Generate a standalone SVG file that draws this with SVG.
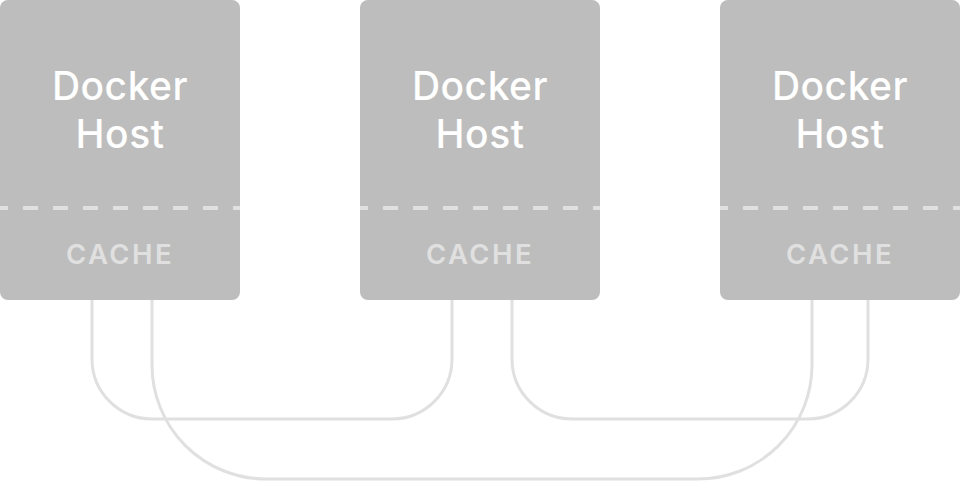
<svg xmlns="http://www.w3.org/2000/svg" width="960" height="482" viewBox="0 0 960 482">
<style>
.box{fill:#bdbdbd}
.title{font-family:Inter,"Open Sans","Liberation Sans",sans-serif;font-size:39px;font-weight:500;fill:#ffffff;text-anchor:middle;letter-spacing:0.5px}
.cache{font-family:Inter,"Open Sans","Liberation Sans",sans-serif;font-size:27.5px;font-weight:600;fill:#e0e0e0;text-anchor:middle;letter-spacing:2.4px}
.dash{stroke:#e0e0e0;stroke-width:4;stroke-dasharray:15 15;stroke-dashoffset:7;fill:none}
.conn{stroke:#e0e0e0;stroke-width:3;fill:none}
</style>
<g id="connectors">
<path class="conn" d="M92,300 V359 A60,60 0 0 0 152,419 H392 A60,60 0 0 0 452,359 V300"/>
<path class="conn" d="M152,300 V365 A114,114 0 0 0 266,479 H698 A114,114 0 0 0 812,365 V300"/>
<path class="conn" d="M512,300 V359 A60,60 0 0 0 572,419 H808 A60,60 0 0 0 868,359 V300"/>
</g>
<g id="host1">
<rect class="box" x="0" y="0" width="240" height="300" rx="8"/>
<text class="title" x="120" y="100">Docker</text>
<text class="title" x="120" y="148">Host</text>
<line class="dash" x1="0" y1="208" x2="240" y2="208"/>
<text class="cache" x="120" y="264">CACHE</text>
</g>
<g id="host2">
<rect class="box" x="360" y="0" width="240" height="300" rx="8"/>
<text class="title" x="480" y="100">Docker</text>
<text class="title" x="480" y="148">Host</text>
<line class="dash" x1="360" y1="208" x2="600" y2="208"/>
<text class="cache" x="480" y="264">CACHE</text>
</g>
<g id="host3">
<rect class="box" x="720" y="0" width="240" height="300" rx="8"/>
<text class="title" x="840" y="100">Docker</text>
<text class="title" x="840" y="148">Host</text>
<line class="dash" x1="720" y1="208" x2="960" y2="208"/>
<text class="cache" x="840" y="264">CACHE</text>
</g>
</svg>
